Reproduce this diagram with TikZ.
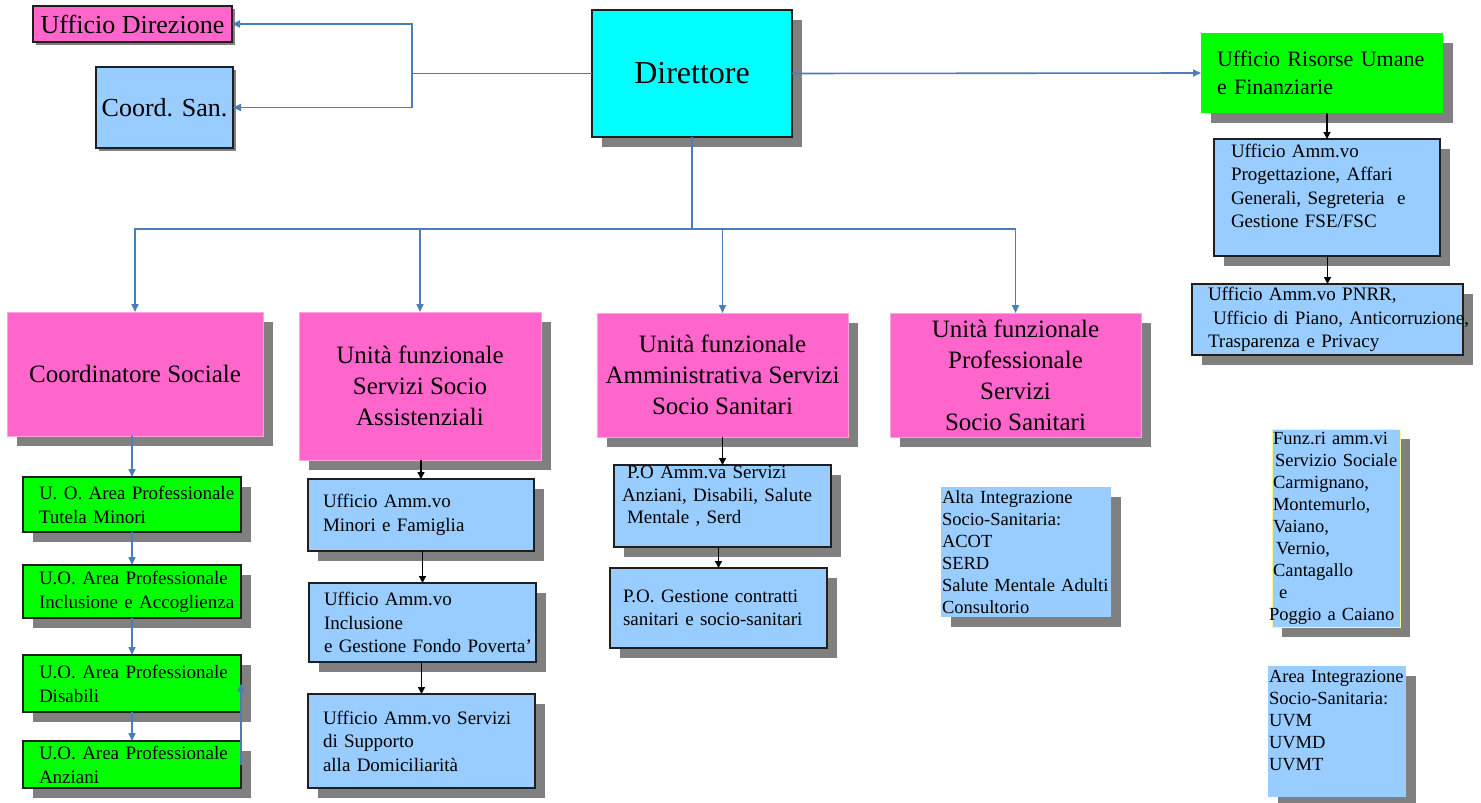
\documentclass[tikz,border=0pt]{standalone}
\usepackage{fontspec}
\setmainfont{Liberation Serif}
\usetikzlibrary{arrows.meta,shadows}
\definecolor{rosa}{HTML}{FF66CC}
\definecolor{azzurro}{HTML}{99CCFF}
\definecolor{verde}{HTML}{00FF00}
\definecolor{ciano}{HTML}{00FFFF}
\definecolor{ombra}{HTML}{808080}
\definecolor{linea}{HTML}{4A7EBB}
\definecolor{bordo}{HTML}{1F1F1F}

\begin{document}
\begin{tikzpicture}
  [x=1pt,y=-1pt,
   every node/.style={anchor=north west,inner sep=1pt,outer sep=0pt,text=black},
   shadowed/.style={drop shadow={shadow xshift=#1,shadow yshift=-#1,fill=ombra,opacity=1}},
   shadowed/.default=10pt,
   dim/.style 2 args={minimum width=#1pt,minimum height=#2pt},
   cella/.style n args={3}{dim={#1}{#2},text width=#1pt-2pt,align=left,
     execute at begin node={\leftskip=#3pt}},
   orlo/.style={draw=bordo,line width=1.5pt},
   grande/.style={font=\fontsize{25}{31}\selectfont},
   piccolo/.style={font=\fontsize{19}{23.5}\selectfont},
   unita/.style={shadowed,fill=rosa,draw=rosa!60,line width=1pt,align=center,grande},
   uo/.style={shadowed,fill=verde,orlo,font=\fontsize{19}{24}\selectfont},
   ufficio/.style={shadowed,fill=azzurro,orlo,piccolo},
   nota/.style={shadowed,fill=azzurro,font=\fontsize{18.5}{22}\selectfont},
   conn/.style={draw=linea,line width=1.6pt,-{Triangle[length=8pt,width=7pt]}},
   filo/.style={draw=linea,line width=1.6pt},
   freccia/.style={draw=black,line width=1.4pt,-{Triangle[length=7pt,width=7pt]}}]
  \fill[white] (0,0) rectangle (1481,803);
  \useasboundingbox (0,0) rectangle (1481,803);

  \node[shadowed,fill=ciano,orlo,dim={200}{127},font=\fontsize{32}{38}\selectfont] (dir) at (592,10) {Direttore};
  \node[shadowed=3pt,fill=rosa,orlo,dim={199}{36},font=\fontsize{26}{30}\selectfont] (udir) at (33,6) {Ufficio Direzione};
  \node[shadowed=3pt,fill=azzurro,orlo,dim={137}{81},font=\fontsize{26}{30}\selectfont] (csan) at (96,67) {Coord. San.};

  \node[shadowed,fill=verde,cella={242}{80}{15},font=\fontsize{22}{28}\selectfont] (ris) at (1201,33)
    {Ufficio Risorse Umane\\e Finanziarie};
  \node[ufficio,cella={226}{117}{16}] (prog) at (1214,139)
    {Ufficio Amm.vo\\Progettazione, Affari\\Generali, Segreteria~ e\\Gestione FSE/FSC\\\mbox{}};
  \node[ufficio,cella={271}{71}{15}] (pnrr) at (1192,284)
    {Ufficio Amm.vo PNRR,\\\hspace*{5pt}\mbox{Ufficio di Piano, Anticorruzione,}\\Trasparenza e Privacy};

  \node[unita,dim={256}{124}] (cs) at (7,312) {Coordinatore Sociale};
  \node[unita,dim={242}{148}] (ussa) at (299,312) {Unità funzionale\\Servizi Socio\\Assistenziali};
  \node[unita,dim={251}{124}] (uasa) at (597,313) {Unità funzionale\\Amministrativa Servizi\\Socio Sanitari};
  \node[unita,dim={251}{124}] (upss) at (890,313) {Unità funzionale\\Professionale\\Servizi\\Socio Sanitari};

  \node[uo,cella={218}{55}{15}] (uo1) at (23,477) {U. O. Area Professionale\\Tutela Minori};
  \node[uo,cella={218}{53}{15}] (uo2) at (23,565) {U.O. Area Professionale\\Inclusione e Accoglienza};
  \node[uo,cella={218}{57}{15}] (uo3) at (23,655) {U.O. Area Professionale\\Disabili};
  \node[uo,cella={218}{47}{15}] (uo4) at (23,741) {U.O. Area Professionale\\Anziani};

  \node[ufficio,cella={226}{72}{14}] (ma) at (308,479) {Ufficio Amm.vo\\Minori e Famiglia};
  \node[ufficio,cella={227}{79}{14}] (mb) at (309,583) {Ufficio Amm.vo\\Inclusione\\e Gestione Fondo Poverta’};
  \node[ufficio,cella={227}{94}{14}] (mc) at (308,694) {Ufficio Amm.vo Servizi\\di Supporto\\alla Domiciliarità};

  \node[ufficio,cella={217}{82}{7},font=\fontsize{19}{22.5}\selectfont] (po1) at (614,465)
    {\hspace*{5pt}P.O Amm.va Servizi\\Anziani, Disabili, Salute\\\hspace*{5pt}Mentale , Serd\\\mbox{}};
  \node[ufficio,cella={217}{80}{12}] (po2) at (610,568) {P.O. Gestione contratti\\sanitari e socio-sanitari};

  \node[nota,cella={170}{130}{0}] (alta) at (941,487)
    {Alta Integrazione\\Socio-Sanitaria:\\ACOT\\SERD\\Salute Mentale Adulti\\Consultorio};
  \node[nota,draw=yellow!45,line width=1pt,cella={128}{198}{0}] (funz) at (1272,429)
    {Funz.ri amm.vi\\\hspace*{2pt}Servizio Sociale\\Carmignano,\\Montemurlo,\\Vaiano,\\\hspace*{3pt}Vernio,\\Cantagallo\\\hspace*{6pt}e\\\hspace*{-4pt}Poggio a Caiano};
  \node[nota,cella={138}{131}{0}] (integr) at (1268,666)
    {Area Integrazione\\Socio-Sanitaria:\\UVM\\UVMD\\UVMT\\\mbox{}};

  \coordinate (js) at (412,73.5);
  \coordinate (jb) at (692,229);
  \draw[filo] (dir.west) -- (js);
  \foreach \to in {udir,csan}
    \draw[conn] (js) |- (\to.east);
  \draw[conn] (dir.east) -- (ris.west);
  \draw[filo] (dir.south) -- (jb);
  \foreach \to in {cs,ussa,uasa,upss}
    \draw[conn] (jb) -| (\to.north);

  \foreach \from/\to in {cs/uo1,uo1/uo2,uo2/uo3,uo3/uo4}
    \draw[conn] (\to.north |- \from.south) -- (\to.north);
  \draw[conn] (uo4.east) -- (uo3.east);

  \foreach \from/\to in {ussa/ma,ma/mb,mb/mc,uasa/po1,po1/po2,ris/prog,prog/pnrr}
    \draw[freccia] (\to.north |- \from.south) -- (\to.north);

\end{tikzpicture}
\end{document}
